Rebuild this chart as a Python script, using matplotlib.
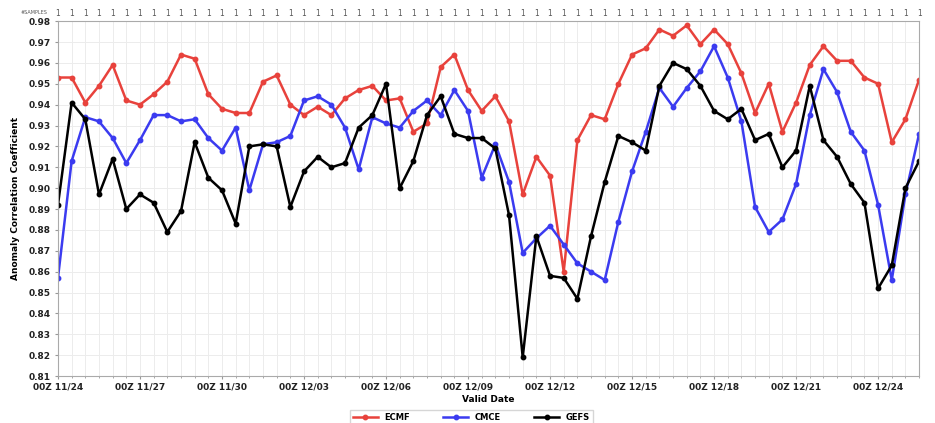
#!/usr/bin/env python

import numpy as np
import pandas as pd
import matplotlib
matplotlib.use('Agg')
import matplotlib.pyplot as plt
import matplotlib.dates as mdates

# Valid times, 12-hourly from 00Z 11/24
times = pd.date_range('2023-11-24 00:00', periods=64, freq='12h')

ecmf = [0.953, 0.953, 0.941, 0.949, 0.959, 0.942, 0.940, 0.945, 0.951, 0.964,
        0.962, 0.945, 0.938, 0.936, 0.936, 0.951, 0.954, 0.940, 0.935, 0.939,
        0.935, 0.943, 0.947, 0.949, 0.942, 0.943, 0.927, 0.931, 0.958, 0.964,
        0.947, 0.937, 0.944, 0.932, 0.897, 0.915, 0.906, 0.860, 0.923, 0.935,
        0.933, 0.950, 0.964, 0.967, 0.976, 0.973, 0.978, 0.969, 0.976, 0.969,
        0.955, 0.936, 0.950, 0.927, 0.941, 0.959, 0.968, 0.961, 0.961, 0.953,
        0.950, 0.922, 0.933, 0.952]

cmce = [0.857, 0.913, 0.934, 0.932, 0.924, 0.912, 0.923, 0.935, 0.935, 0.932,
        0.933, 0.924, 0.918, 0.929, 0.899, 0.921, 0.922, 0.925, 0.942, 0.944,
        0.940, 0.929, 0.909, 0.934, 0.931, 0.929, 0.937, 0.942, 0.935, 0.947,
        0.937, 0.905, 0.921, 0.903, 0.869, 0.876, 0.882, 0.873, 0.864, 0.860,
        0.856, 0.884, 0.908, 0.927, 0.948, 0.939, 0.948, 0.956, 0.968, 0.953,
        0.932, 0.891, 0.879, 0.885, 0.902, 0.935, 0.957, 0.946, 0.927, 0.918,
        0.892, 0.856, 0.897, 0.926]

gefs = [0.892, 0.941, 0.933, 0.897, 0.914, 0.890, 0.897, 0.893, 0.879, 0.889,
        0.922, 0.905, 0.899, 0.883, 0.920, 0.921, 0.920, 0.891, 0.908, 0.915,
        0.910, 0.912, 0.929, 0.935, 0.950, 0.900, 0.913, 0.935, 0.944, 0.926,
        0.924, 0.924, 0.919, 0.887, 0.819, 0.877, 0.858, 0.857, 0.847, 0.877,
        0.903, 0.925, 0.922, 0.918, 0.949, 0.960, 0.957, 0.949, 0.937, 0.933,
        0.938, 0.923, 0.926, 0.910, 0.918, 0.949, 0.923, 0.915, 0.902, 0.893,
        0.852, 0.863, 0.900, 0.913]

samples = [1] * 64

series = [('ECMF', ecmf, '#e8423c'),
          ('CMCE', cmce, '#3b3bf0'),
          ('GEFS', gefs, 'black')]

fig = plt.figure(figsize=(9.35, 4.23), dpi=100)
ax = fig.add_axes([0.062, 0.111, 0.921, 0.839])

for name, vals, col in series:
    ax.plot(times, vals, color=col, lw=1.8, marker='o', ms=3.2, label=name)

ax.set_xlim(times[0], times[-1])
ax.set_ylim(0.81, 0.98)
ax.set_yticks(np.arange(0.81, 0.9801, 0.01))
ax.yaxis.set_major_formatter(plt.FormatStrFormatter('%.2f'))

ax.set_xticks(pd.date_range(times[0], periods=11, freq='3D'))
ax.xaxis.set_major_formatter(mdates.DateFormatter('%HZ %m/%d'))
ax.xaxis.set_minor_locator(mdates.HourLocator(byhour=[0, 12]))
ax.grid(True, which='both', color='#ececec', lw=0.7)
ax.set_axisbelow(True)

for lab in ax.get_xticklabels() + ax.get_yticklabels():
    lab.set_fontweight('bold')
    lab.set_fontsize(6.5)
    lab.set_color('#222222')
ax.tick_params(length=2, color='#999999', pad=3)
ax.tick_params(which='minor', length=1.5, color='#999999')
for sp in ax.spines.values():
    sp.set_color('#aaaaaa')

ax.set_xlabel('Valid Date', fontsize=6.5, fontweight='bold', labelpad=2)
ax.set_ylabel('Anomaly Correlation Coefficient', fontsize=6.5,
              fontweight='bold', labelpad=6)

# Sample counts along the top
top = ax.secondary_xaxis('top')
top.set_xticks(times)
top.set_xticklabels([str(s) for s in samples], fontsize=5.5, color='#555555')
top.tick_params(length=0, pad=2)
top.spines['top'].set_visible(False)
fig.text(0.022, 0.966, '#SAMPLES', fontsize=3.5, color='#555555')

ax.legend(loc='upper center', bbox_to_anchor=(0.48, -0.085), ncol=3,
          frameon=True, edgecolor='#cccccc', fancybox=False,
          handlelength=3, columnspacing=4, borderpad=0.3,
          prop={'weight': 'bold', 'size': 6})

fig.savefig('out.png', dpi=100)
